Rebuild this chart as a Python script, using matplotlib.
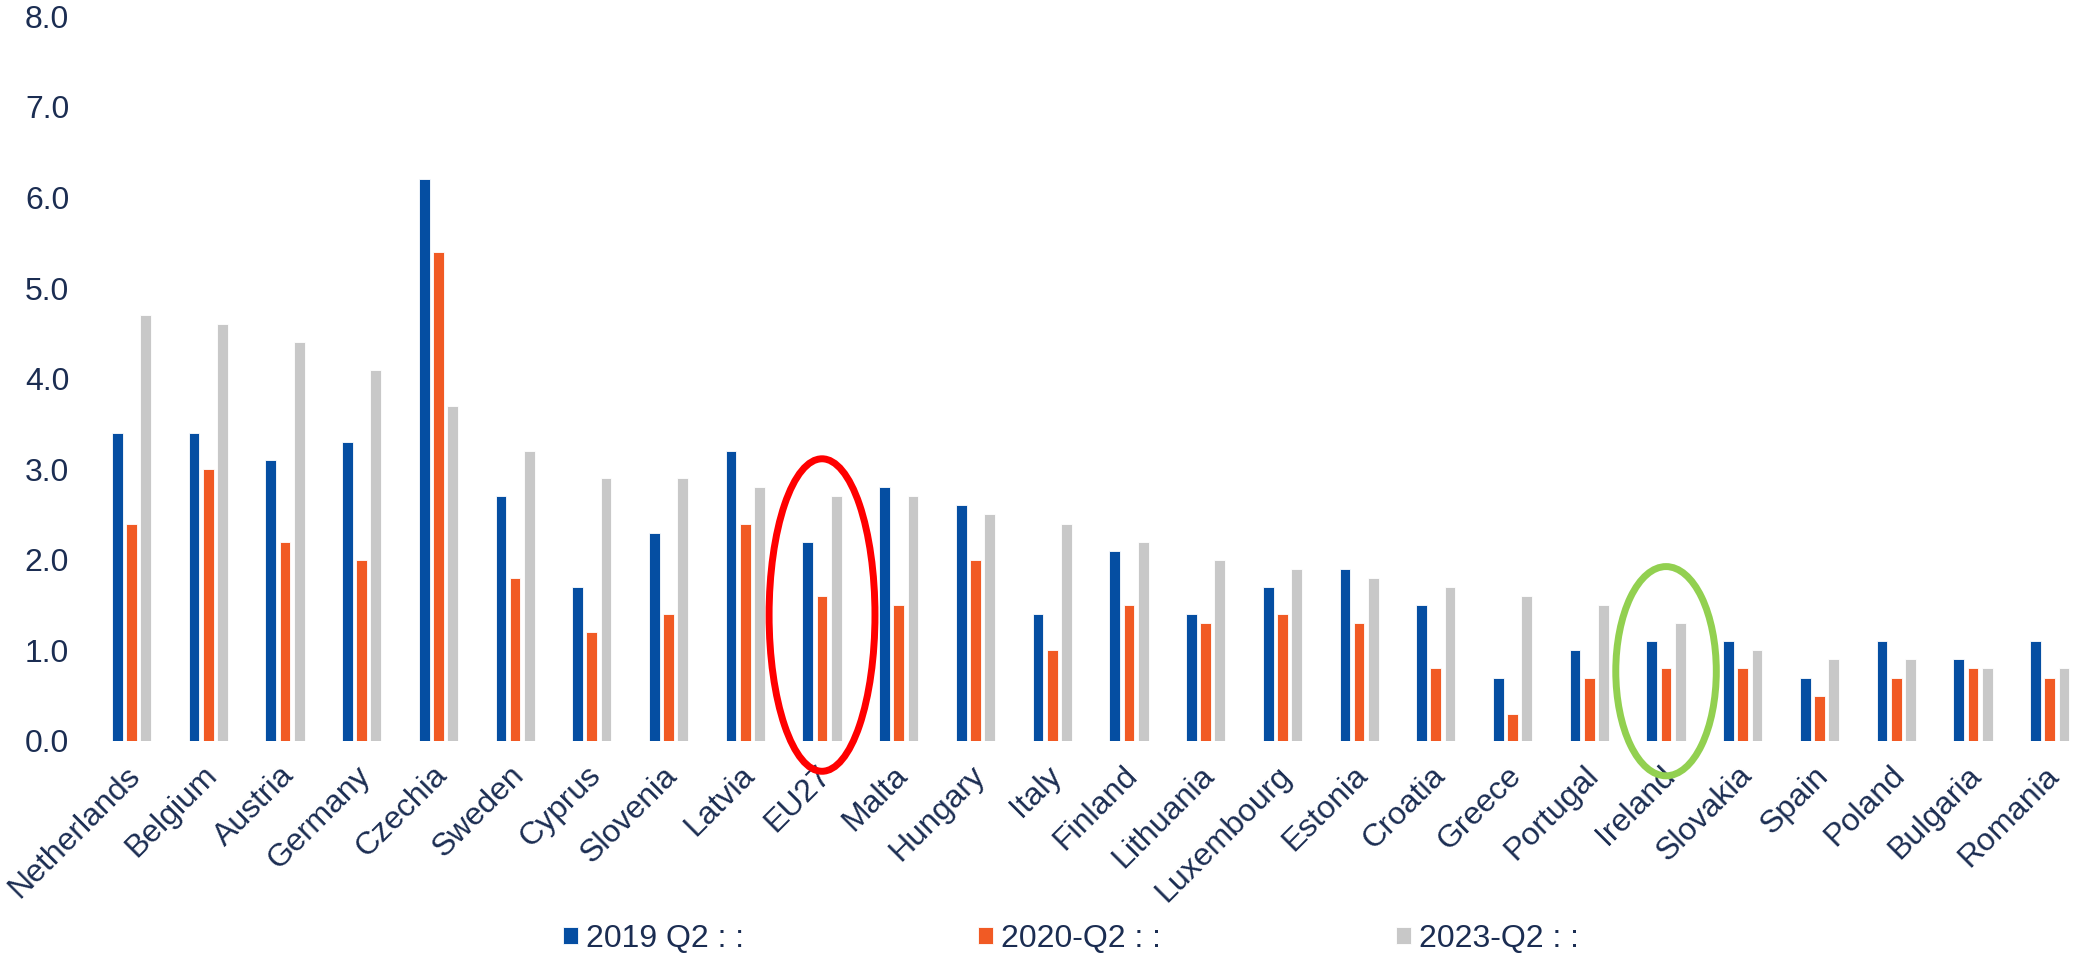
import matplotlib as mpl
mpl.use('Agg')
import matplotlib.pyplot as plt
from matplotlib.patches import Ellipse
import numpy as np

plt.rcParams['font.family'] = ['Liberation Sans', 'DejaVu Sans']

countries = ['Netherlands', 'Belgium', 'Austria', 'Germany', 'Czechia', 'Sweden', 'Cyprus',
             'Slovenia', 'Latvia', 'EU27', 'Malta', 'Hungary', 'Italy', 'Finland', 'Lithuania',
             'Luxembourg', 'Estonia', 'Croatia', 'Greece', 'Portugal', 'Ireland', 'Slovakia',
             'Spain', 'Poland', 'Bulgaria', 'Romania']
q2_2019 = [3.4, 3.4, 3.1, 3.3, 6.2, 2.7, 1.7, 2.3, 3.2, 2.2, 2.8, 2.6, 1.4, 2.1, 1.4,
           1.7, 1.9, 1.5, 0.7, 1.0, 1.1, 1.1, 0.7, 1.1, 0.9, 1.1]
q2_2020 = [2.4, 3.0, 2.2, 2.0, 5.4, 1.8, 1.2, 1.4, 2.4, 1.6, 1.5, 2.0, 1.0, 1.5, 1.3,
           1.4, 1.3, 0.8, 0.3, 0.7, 0.8, 0.8, 0.5, 0.7, 0.8, 0.7]
q2_2023 = [4.7, 4.6, 4.4, 4.1, 3.7, 3.2, 2.9, 2.9, 2.8, 2.7, 2.7, 2.5, 2.4, 2.2, 2.0,
           1.9, 1.8, 1.7, 1.6, 1.5, 1.3, 1.0, 0.9, 0.9, 0.8, 0.8]
labels = ['2019 Q2 : :', '2020-Q2 : :', '2023-Q2 : :']
colors = ['#054ea2', '#f15a24', '#c8c8c8']
txt = '#1b2d52'

fig = plt.figure(figsize=(20.75, 9.61), dpi=100)
ax = fig.add_axes([0.036, 0.229, 0.964, 0.754])

x = np.arange(len(countries))
w = 0.14
step = 0.185
for k, vals in enumerate([q2_2019, q2_2020, q2_2023]):
    ax.bar(x + (k - 1) * step, vals, w, color=colors[k], edgecolor='white',
           linewidth=0.6, label=labels[k])

ax.set_xlim(-0.74, 25.33)
ax.set_ylim(0, 8)
ax.set_yticks(np.arange(0, 8.1, 1.0))
ax.set_yticklabels(['%.1f' % v for v in np.arange(0, 8.1, 1.0)])
ax.set_xticks(x - 0.08)
ax.set_xticklabels(countries, rotation=45, ha='right', va='top', rotation_mode='anchor')
ax.tick_params(axis='both', length=0, labelsize=23, colors=txt)
ax.tick_params(axis='x', pad=14)
ax.tick_params(axis='y', pad=4)
for s in ax.spines.values():
    s.set_visible(False)

ax.add_patch(Ellipse((9, 1.39), 1.38, 3.45, fill=False, edgecolor='#ff0000',
                     linewidth=5, clip_on=False, zorder=5))
ax.add_patch(Ellipse((20, 0.77), 1.31, 2.31, fill=False, edgecolor='#92d050',
                     linewidth=5, clip_on=False, zorder=5))

leg = fig.legend(loc='center', bbox_to_anchor=(0.516, 0.023), ncol=3, frameon=False,
                 fontsize=23, handlelength=0.47, handleheight=0.47, handletextpad=0.25,
                 columnspacing=7.35)
for t in leg.get_texts():
    t.set_color(txt)

plt.savefig('out.png', dpi=100)
plt.close()
